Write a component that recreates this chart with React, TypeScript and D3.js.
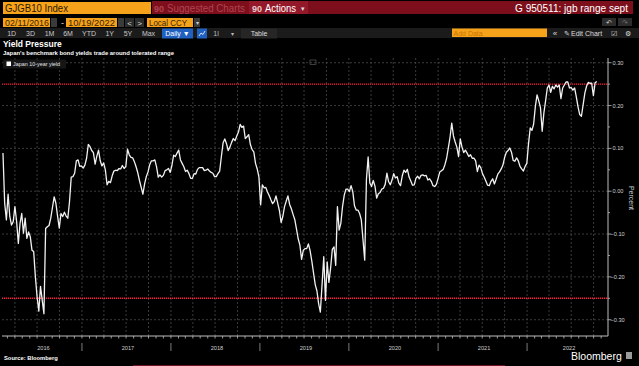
import * as d3 from "d3";
import { useEffect, useRef } from "react";

// weekly closes of the Japan 10-year yield, first one on 12 Feb 2016
const startDate = new Date(2016, 1, 12);
const yields = [
  0.089, -0.028, -0.067, -0.007, -0.059, -0.079, -0.071, -0.036, -0.071, -0.122,
  -0.075, -0.052, -0.098, -0.063, -0.110, -0.095, -0.106, -0.138, -0.141, -0.200,
  -0.247, -0.280, -0.222, -0.255, -0.286, -0.087, -0.083, -0.080, -0.063, -0.038,
  -0.013, -0.028, -0.058, -0.086, -0.052, -0.059, -0.049, -0.058, -0.063, -0.024,
  0.033, 0.034, 0.042, 0.071, 0.073, 0.058, 0.059, 0.054, 0.061, 0.077,
  0.109, 0.104, 0.095, 0.090, 0.063, 0.082, 0.096, 0.071, 0.059, 0.066,
  0.050, 0.015, 0.023, 0.020, 0.036, 0.047, 0.049, 0.048, 0.053, 0.052,
  0.060, 0.053, 0.058, 0.098, 0.085, 0.079, 0.078, 0.069, 0.057, 0.043,
  0.025, 0.009, -0.007, 0.017, 0.034, 0.045, 0.062, 0.071, 0.071, 0.073,
  0.057, 0.033, 0.038, 0.033, 0.037, 0.048, 0.050, 0.053, 0.044, 0.060,
  0.084, 0.081, 0.089, 0.096, 0.073, 0.065, 0.057, 0.046, 0.049, 0.041,
  0.030, 0.030, 0.041, 0.040, 0.051, 0.055,
  0.055, 0.055, 0.048, 0.049, 0.052, 0.047, 0.044, 0.042, 0.034, 0.034,
  0.041, 0.047, 0.081, 0.113, 0.122, 0.111, 0.095, 0.103, 0.114, 0.123,
  0.118, 0.129, 0.138, 0.156, 0.149, 0.152, 0.123, 0.127, 0.132, 0.109,
  0.097, 0.092, 0.065, 0.052, 0.033, -0.032, 0.015, 0.008, 0.009, -0.002,
  -0.010, -0.020, -0.029, -0.024, -0.011, -0.028, -0.045, -0.073, -0.059, -0.036,
  -0.023, -0.011, -0.031, -0.041, -0.054, -0.066, -0.088, -0.111, -0.126, -0.159,
  -0.138, -0.134, -0.134, -0.123, -0.139, -0.163, -0.191, -0.218, -0.233, -0.263,
  -0.282, -0.218, -0.153, -0.255, -0.165, -0.213, -0.180, -0.136, -0.130, -0.173,
  -0.036, -0.091, -0.075, -0.036, -0.009, 0.005, 0.005, -0.001, 0.013, -0.001,
  -0.034, -0.044, -0.044, -0.052, -0.067, -0.114, -0.161, 0.027, 0.080, 0.019,
  0.011, 0.025, 0.012, -0.016, -0.006, -0.003, 0.005, 0.007, 0.016, 0.042,
  0.022, 0.015, 0.026, 0.041, 0.031, 0.034, 0.019,
  0.013, 0.036, 0.049, 0.044, 0.051, 0.033, 0.024, 0.014, 0.015, 0.030,
  0.035, 0.029, 0.037, 0.038, 0.036, 0.037, 0.026, 0.029, 0.023, 0.013,
  0.011, 0.016, 0.030, 0.045, 0.048, 0.051, 0.062, 0.077, 0.101, 0.126,
  0.159, 0.129, 0.115, 0.103, 0.081, 0.122, 0.103, 0.090, 0.096, 0.089,
  0.081, 0.085, 0.077, 0.077, 0.071, 0.046, 0.061, 0.055, 0.041, 0.033,
  0.024, 0.014, 0.013, 0.023, 0.029, 0.017, 0.028, 0.040, 0.045, 0.052,
  0.061, 0.079, 0.091, 0.095, 0.101, 0.091, 0.072, 0.070, 0.078, 0.071,
  0.058, 0.052, 0.047, 0.058, 0.065, 0.111, 0.148, 0.142, 0.157, 0.198,
  0.225, 0.211, 0.195, 0.140, 0.183, 0.211, 0.241, 0.248, 0.231, 0.245,
  0.239, 0.248, 0.243, 0.248, 0.216, 0.241, 0.248, 0.255, 0.255, 0.241,
  0.242, 0.236, 0.241, 0.220, 0.197, 0.179, 0.175, 0.202, 0.229, 0.245,
  0.254, 0.252, 0.252, 0.223, 0.253, 0.256,
];

const yTicks = [-0.3, -0.2, -0.1, 0, 0.1, 0.2, 0.3];
const bandLevels = [0.25, -0.25];
const rangeButtons = ["1D", "3D", "1M", "6M", "YTD", "1Y", "5Y", "Max"];
const rangeButtonX = [11.7, 30.5, 49.5, 68, 89, 109.7, 128, 148.5];

const FONT = "'Liberation Sans', Arial, sans-serif";
const W = 639, H = 366;
const plot = { x1: 2, x2: 608, y1: 58, y2: 336 };

const redraw = (ref) => {
  const svg = d3.select(ref.current);
  svg.selectAll("*").remove();

  const text = (x, y, s, size, fill, opts: any = {}) => {
    const t = svg.append("text")
      .attr("x", x).attr("y", y)
      .attr("font-family", FONT)
      .attr("font-size", size)
      .attr("font-weight", opts.weight || "normal")
      .attr("text-anchor", opts.anchor || "start")
      .attr("fill", fill)
      .text(s);
    if (opts.len) t.attr("textLength", opts.len).attr("lengthAdjust", "spacingAndGlyphs");
    return t;
  };
  const rect = (x, y, w, h, fill) =>
    svg.append("rect").attr("x", x).attr("y", y).attr("width", w).attr("height", h).attr("fill", fill);

  rect(0, 0, W, H, "#000");

  // --- terminal header rows
  rect(152, 1, 481, 13, "#7d0f1c");
  rect(3, 2, 148, 12, "#f7a21b");
  text(5, 12, "GJGB10 Index", 10, "#2b1a00", { len: 63 });
  text(154, 12, "90", 9, "#b04450", { weight: "bold" });
  text(167, 12, "Suggested Charts", 10, "#b04450", { len: 78 });
  rect(249, 1, 59, 13, "#93182a");
  text(252, 12, "90", 9, "#e8c8cc", { weight: "bold" });
  text(265, 12, "Actions", 10, "#fff", { len: 31 });
  text(301, 11, "▾", 7, "#ddd");
  text(628, 12, "G 950511: jgb range sept", 10, "#fff", { anchor: "end", len: 113 });

  rect(3, 18, 47, 9, "#f7a21b");
  text(5, 26, "02/11/2016", 9, "#3a2500", { len: 44 });
  rect(51, 18, 6, 9, "#3a3a3a");
  text(61, 26, "-", 9, "#ddd");
  rect(66, 18, 51, 9, "#f7a21b");
  text(68, 26, "10/19/2022", 9, "#3a2500", { len: 47 });
  rect(118, 18, 6, 9, "#3a3a3a");
  rect(125, 18, 9, 9, "#2c2c2c");
  text(129.5, 26, "<", 8, "#ddd", { anchor: "middle" });
  rect(135, 18, 9, 9, "#2c2c2c");
  text(139.5, 26, ">", 8, "#ddd", { anchor: "middle" });
  rect(147, 18, 46, 9, "#f7a21b");
  text(149, 26, "Local CCY", 9, "#3a2500", { len: 38 });
  rect(194, 18, 6, 9, "#3a3a3a");
  text(197, 25, "▾", 6, "#ccc", { anchor: "middle" });
  rect(602, 18, 14, 8, "#2c2c2c");
  text(609, 25, "↶", 7, "#ccc", { anchor: "middle" });
  rect(618, 18, 14, 8, "#2c2c2c");
  text(625, 25, "↷", 7, "#777", { anchor: "middle" });

  rect(0, 28, W, 10, "#1b1b1b");
  rangeButtons.forEach((b, i) => text(rangeButtonX[i], 36, b, 7, "#c8c8c8", { anchor: "middle" }));
  rect(162, 28.5, 31, 10, "#2060c0");
  text(177.5, 36, "Daily ▼", 7, "#fff", { anchor: "middle" });
  rect(197, 28.5, 10, 10, "#2060c0");
  svg.append("path").attr("d", "M199,36 L201,33 L203,34.5 L205,31").attr("fill", "none").attr("stroke", "#fff").attr("stroke-width", 0.8);
  text(216, 36, "1l", 7, "#bbb", { anchor: "middle" });
  text(232, 35.5, "▾", 6, "#bbb", { anchor: "middle" });
  rect(241, 28.5, 36, 10, "#262626");
  text(259, 36, "Table", 7, "#ddd", { anchor: "middle" });
  rect(452, 28.5, 95, 8.5, "#f7a21b");
  text(453.5, 35.5, "Add Data", 7, "#c77400");
  text(555, 36, "«", 8, "#ddd", { anchor: "middle" });
  text(564, 36, "✎", 6.5, "#ddd");
  text(571, 36, "Edit Chart", 7, "#ddd");
  text(614, 36, "☑", 6.5, "#ddd", { anchor: "middle" });
  text(628, 36, "⚙", 7, "#ddd", { anchor: "middle" });

  // --- titles
  text(3, 47, "Yield Pressure", 8.5, "#fff", { weight: "bold" });
  text(3, 54.5, "Japan's benchmark bond yields trade around tolerated range", 5.9, "#fff", { weight: "bold" });

  // --- scales
  const dates = yields.map((_, i) => d3.timeDay.offset(startDate, i * 7));
  const x = d3.scaleTime().domain([new Date(2016, 1, 8), new Date(2022, 10, 29)]).range([plot.x1, plot.x2]);
  const y = d3.scaleLinear().domain([-0.338, 0.311]).range([plot.y2, plot.y1]);
  const [d0, d1] = x.domain();

  // grid
  const g = svg.append("g");
  d3.timeMonth.every(3).range(d0, d1).forEach((d) => {
    g.append("line").attr("x1", x(d)).attr("x2", x(d)).attr("y1", plot.y1).attr("y2", plot.y2)
      .attr("stroke", "#4a4a4a").attr("stroke-width", 0.8).attr("stroke-dasharray", "2,2");
  });
  yTicks.forEach((t) => {
    g.append("line").attr("x1", plot.x1).attr("x2", plot.x2).attr("y1", y(t)).attr("y2", y(t))
      .attr("stroke", "#4a4a4a").attr("stroke-width", 0.8).attr("stroke-dasharray", "2,2");
  });

  // tolerated band
  bandLevels.forEach((v) => {
    g.append("line").attr("x1", plot.x1).attr("x2", plot.x2).attr("y1", y(v)).attr("y2", y(v))
      .attr("stroke", "#ff1f3d").attr("stroke-width", 1.4).attr("stroke-dasharray", "1.2,0.8");
  });

  // series
  const line = d3.line().x((d, i) => x(dates[i])).y((d) => y(d));
  svg.append("path").datum(yields).attr("d", line)
    .attr("fill", "none").attr("stroke", "#f2f2f2").attr("stroke-width", 1.3).attr("stroke-linejoin", "round");

  // right axis
  svg.append("line").attr("x1", plot.x2).attr("x2", plot.x2).attr("y1", plot.y1).attr("y2", plot.y2)
    .attr("stroke", "#bdbdbd").attr("stroke-width", 1);
  d3.range(-0.3, 0.31, 0.05).forEach((t) => {
    const major = Math.abs(Math.round(t * 100) % 10) === 0;
    svg.append("line").attr("x1", plot.x2).attr("x2", plot.x2 + (major ? 3.5 : 2)).attr("y1", y(t)).attr("y2", y(t))
      .attr("stroke", "#bdbdbd").attr("stroke-width", 0.8);
  });
  yTicks.forEach((t) => text(t < 0 ? 610.5 : 612.5, y(t) + 2, d3.format(".2f")(t), 5.6, "#d0d0d0"));
  svg.append("text").attr("transform", "translate(628.5,198) rotate(90)")
    .attr("font-family", FONT).attr("font-size", 7).attr("fill", "#c9d0d8").attr("text-anchor", "middle").text("Percent");

  // bottom axis
  svg.append("line").attr("x1", plot.x1).attr("x2", plot.x2).attr("y1", plot.y2).attr("y2", plot.y2)
    .attr("stroke", "#bdbdbd").attr("stroke-width", 1);
  d3.timeMonth.range(d0, d1).forEach((d) => {
    svg.append("line").attr("x1", x(d)).attr("x2", x(d)).attr("y1", plot.y2).attr("y2", plot.y2 + 2.5)
      .attr("stroke", "#bdbdbd").attr("stroke-width", 0.8);
  });
  const years = d3.timeYear.range(d3.timeYear.floor(d0), d1);
  years.forEach((yr) => {
    const a = Math.max(x(yr), plot.x1);
    const b = Math.min(x(d3.timeYear.offset(yr, 1)), plot.x2);
    if (yr > d0) {
      svg.append("line").attr("x1", x(yr)).attr("x2", x(yr)).attr("y1", 343).attr("y2", 351)
        .attr("stroke", "#9a9a9a").attr("stroke-width", 0.8);
    }
    text((a + b) / 2 + 1.5, 349.5, d3.timeFormat("%Y")(yr), 5.6, "#d0d0d0", { anchor: "middle" });
  });

  // legend
  rect(3, 59.5, 63, 9, "#161616");
  rect(6.5, 61.5, 4.5, 4.5, "#fff");
  text(13, 66, "Japan 10-year yield", 5.4, "#e0e4ea");
  svg.append("rect").attr("x", 310).attr("y", 60).attr("width", 6).attr("height", 4.5)
    .attr("fill", "none").attr("stroke", "#666").attr("stroke-width", 0.6);

  // footer
  text(4, 360, "Source: Bloomberg", 5.8, "#fff", { weight: "bold" });
  text(571, 360, "Bloomberg", 10.5, "#fff");
  rect(626, 352, 6, 7, "#9a9a9a");
  rect(133, 365, 372, 1, "#6e1420");
};

export default function App() {
  const ref = useRef(null);
  useEffect(() => {
    redraw(ref);
  }, []);
  return (
    <div style={{ position: "fixed", left: 0, top: 0, width: W, height: H, background: "#000" }}>
      <svg ref={ref} width={W} height={H} style={{ display: "block" }} />
    </div>
  );
}
